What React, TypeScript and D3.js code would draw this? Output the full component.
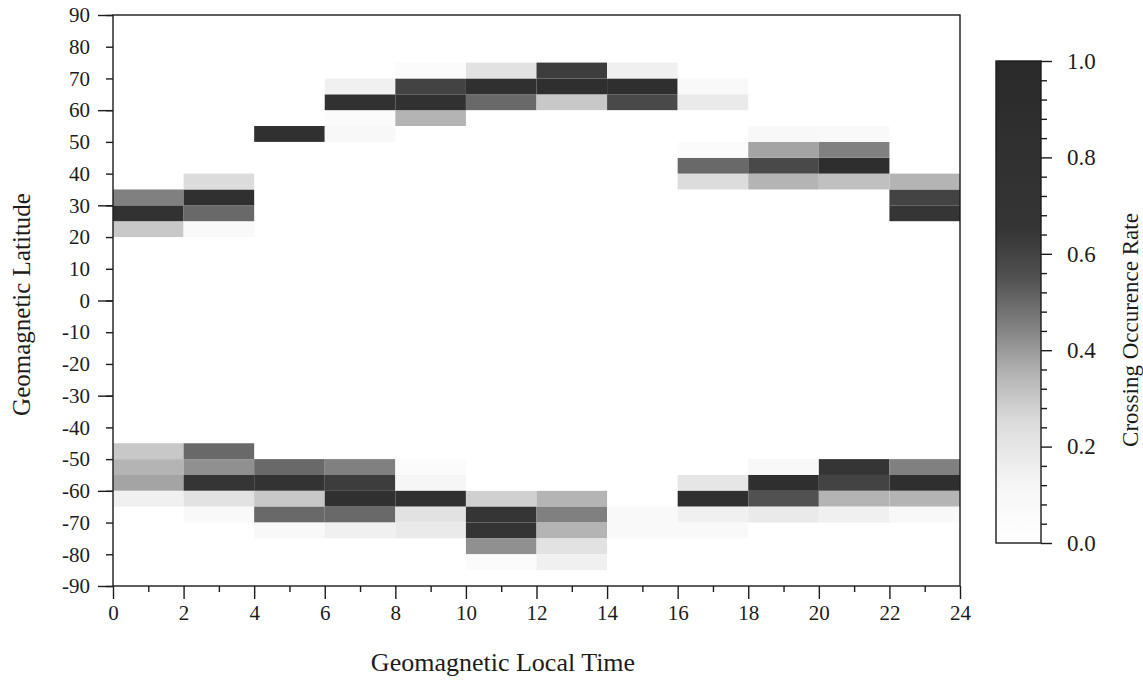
import React, { useEffect, useRef } from 'react';
import * as d3 from 'd3';

// start hour of each 2 h local time bin
const ltBins = [0, 2, 4, 6, 8, 10, 12, 14, 16, 18, 20, 22];

// crossing occurence rate per 5 deg latitude bin, [lower lat edge, rate]
const lt00 = [[20, 0.3], [25, 0.75], [30, 0.45], [-50, 0.3], [-55, 0.35], [-60, 0.38], [-65, 0.15]];
const lt02 = [[20, 0.08], [25, 0.5], [30, 0.8], [35, 0.25], [-50, 0.5], [-55, 0.42], [-60, 0.65], [-65, 0.22], [-70, 0.08]];
const lt04 = [[50, 0.8], [-55, 0.5], [-60, 0.72], [-65, 0.3], [-70, 0.5], [-75, 0.1]];
const lt06 = [[50, 0.1], [55, 0.05], [60, 0.78], [65, 0.15], [-55, 0.45], [-60, 0.62], [-65, 0.82], [-70, 0.5], [-75, 0.15]];
const lt08 = [[55, 0.35], [60, 0.78], [65, 0.6], [70, 0.05], [-55, 0.05], [-60, 0.12], [-65, 0.82], [-70, 0.22], [-75, 0.18]];
const lt10 = [[60, 0.5], [65, 0.8], [70, 0.22], [-65, 0.28], [-70, 0.65], [-75, 0.68], [-80, 0.42], [-85, 0.05]];
const lt12 = [[60, 0.3], [65, 0.85], [70, 0.62], [-65, 0.35], [-70, 0.45], [-75, 0.35], [-80, 0.22], [-85, 0.15]];
const lt14 = [[60, 0.58], [65, 0.85], [70, 0.15], [-70, 0.08], [-75, 0.08]];
const lt16 = [[35, 0.25], [40, 0.5], [45, 0.05], [60, 0.18], [65, 0.08], [-60, 0.2], [-65, 0.85], [-70, 0.15], [-75, 0.08]];
const lt18 = [[35, 0.35], [40, 0.58], [45, 0.38], [50, 0.1], [-55, 0.1], [-60, 0.85], [-65, 0.55], [-70, 0.18]];
const lt20 = [[35, 0.32], [40, 0.88], [45, 0.45], [50, 0.08], [-55, 0.65], [-60, 0.6], [-65, 0.35], [-70, 0.15]];
const lt22 = [[25, 0.65], [30, 0.6], [35, 0.35], [-55, 0.45], [-60, 0.85], [-65, 0.35], [-70, 0.1]];
const rates = [lt00, lt02, lt04, lt06, lt08, lt10, lt12, lt14, lt16, lt18, lt20, lt22];

const latLabels = [90, 80, 70, 60, 50, 40, 30, 20, 10, 0, -10, -20, -30, -40, -50, -60, -70, -80, -90];
const latMajor = [90, 60, 30, 0, -30, -60, -90];
const ltLabels = [0, 2, 4, 6, 8, 10, 12, 14, 16, 18, 20, 22, 24];
const ltMinor = [1, 3, 5, 7, 9, 11, 13, 15, 17, 19, 21, 23];
const rateLabels = [0, 0.2, 0.4, 0.6, 0.8, 1.0];
const rateMinor = [0.04, 0.08, 0.12, 0.16, 0.24, 0.28, 0.32, 0.36, 0.44, 0.48, 0.52, 0.56,
  0.64, 0.68, 0.72, 0.76, 0.84, 0.88, 0.92, 0.96];

const FONT = '"Liberation Serif", "Times New Roman", serif';
const INK = '#1c1c1c';

const App = () => {
  const ref = useRef(null);

  useEffect(() => {
    const svg = d3.select(ref.current);
    svg.selectAll('*').remove();

    const x = d3.scaleLinear().domain([0, 24]).range([113, 960]);
    const y = d3.scaleLinear().domain([-90, 90]).range([586, 15]);
    const c = d3.scaleLinear().domain([0, 1]).range([543, 61]);
    const gray = d3.scaleLinear<string>()
      .domain([0, 0.12, 0.25, 0.35, 0.45, 0.55, 0.65, 1])
      .range(['#ffffff', '#f6f6f6', '#dcdcdc', '#b4b4b4', '#808080', '#515151', '#353535', '#2a2a2a']);

    svg.append('rect').attr('width', 1143).attr('height', 680).attr('fill', '#ffffff');

    // cells
    ltBins.forEach((lt, i) => {
      svg.append('g').selectAll('rect').data(rates[i]).enter().append('rect')
        .attr('x', x(lt))
        .attr('y', d => y(d[0] + 5))
        .attr('width', x(lt + 2) - x(lt))
        .attr('height', d => y(d[0]) - y(d[0] + 5))
        .attr('fill', d => gray(d[1]));
    });

    svg.append('rect')
      .attr('x', x(0)).attr('y', y(90))
      .attr('width', x(24) - x(0)).attr('height', y(-90) - y(90))
      .attr('fill', 'none').attr('stroke', INK).attr('stroke-width', 1.4);

    const style = (g, size = 21) => {
      g.select('.domain').remove();
      g.selectAll('line').attr('stroke', INK).attr('stroke-width', 1.4);
      g.selectAll('text').attr('font-family', FONT).attr('font-size', size).attr('fill', INK);
    };

    // y axis
    svg.append('g').attr('transform', `translate(${x(0)},0)`)
      .call(d3.axisLeft(y).tickValues(latLabels).tickSize(7).tickFormat(() => '')).call(style);
    svg.append('g').attr('transform', `translate(${x(0)},0)`)
      .call(d3.axisLeft(y).tickValues(latMajor).tickSize(15).tickFormat(() => '')).call(style);
    svg.append('g').attr('transform', `translate(${x(0)},0)`)
      .call(d3.axisLeft(y).tickValues(latLabels).tickSize(0).tickPadding(23).tickFormat(d => String(d))).call(style);

    // x axis
    svg.append('g').attr('transform', `translate(0,${y(-90)})`)
      .call(d3.axisBottom(x).tickValues(ltMinor).tickSize(6).tickFormat(() => '')).call(style);
    svg.append('g').attr('transform', `translate(0,${y(-90)})`)
      .call(d3.axisBottom(x).tickValues(ltLabels).tickSize(13).tickFormat(() => '')).call(style);
    svg.append('g').attr('transform', `translate(0,${y(-90)})`)
      .call(d3.axisBottom(x).tickValues(ltLabels).tickSize(0).tickPadding(19).tickFormat(d => String(d))).call(style);

    svg.append('text')
      .attr('x', 503).attr('y', 671)
      .attr('text-anchor', 'middle')
      .attr('font-family', FONT).attr('font-size', 26).attr('fill', INK)
      .text('Geomagnetic Local Time');
    svg.append('text')
      .attr('transform', `translate(30,${y(0) + 4}) rotate(-90)`)
      .attr('text-anchor', 'middle')
      .attr('font-family', FONT).attr('font-size', 25).attr('fill', INK)
      .text('Geomagnetic Latitude');

    // colour bar
    const grad = svg.append('defs').append('linearGradient')
      .attr('id', 'rateGrad').attr('x1', 0).attr('x2', 0).attr('y1', 1).attr('y2', 0);
    d3.range(0, 1.0001, 0.025).forEach(t => {
      grad.append('stop').attr('offset', t).attr('stop-color', gray(t));
    });
    const cbX = 996;
    const cbW = 45;
    svg.append('rect')
      .attr('x', cbX).attr('y', c(1))
      .attr('width', cbW).attr('height', c(0) - c(1))
      .attr('fill', 'url(#rateGrad)').attr('stroke', INK).attr('stroke-width', 1.4);

    svg.append('g').attr('transform', `translate(${cbX + cbW},0)`)
      .call(d3.axisRight(c).tickValues(rateMinor).tickSize(6).tickFormat(() => '')).call(style);
    svg.append('g').attr('transform', `translate(${cbX + cbW},0)`)
      .call(d3.axisRight(c).tickValues(rateLabels).tickSize(11).tickPadding(15).tickFormat(d3.format('.1f')))
      .call(g => style(g, 23));

    svg.append('text')
      .attr('transform', `translate(1138,330) rotate(-90)`)
      .attr('text-anchor', 'middle')
      .attr('font-family', FONT).attr('font-size', 23).attr('fill', INK)
      .text('Crossing Occurence Rate');
  }, []);

  return (
    <div style={{ position: 'absolute', left: 0, top: 0 }}>
      <svg ref={ref} width={1143} height={680}></svg>
    </div>
  );
};

export default App;
